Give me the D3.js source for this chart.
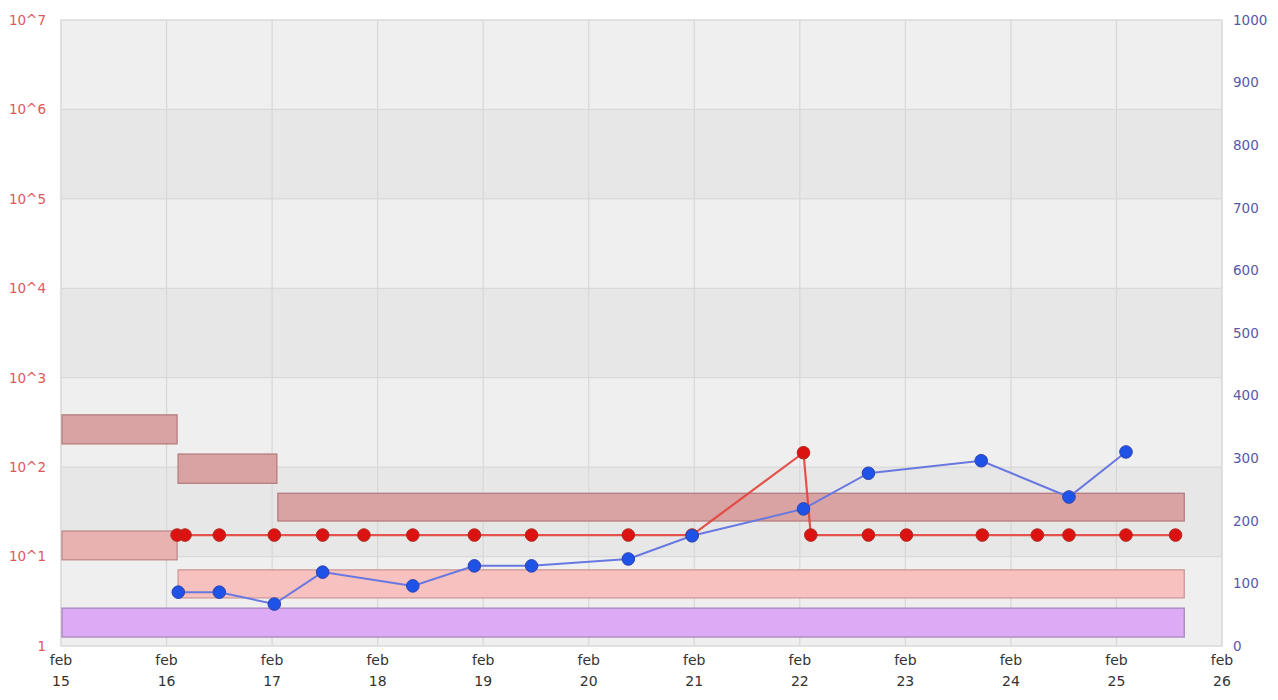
<!DOCTYPE html>
<html>
<head>
<meta charset="utf-8">
<script src="https://cdn.jsdelivr.net/npm/d3@7"></script>
<style>
  html, body { margin: 0; padding: 0; background: #ffffff; }
  svg { display: block; font-family: "DejaVu Sans", Verdana, sans-serif; }
</style>
</head>
<body>
<svg id="chart" width="1278" height="700"></svg>
<script>
// ---------- data ----------
const xDomain = ["2014-02-15 00:00", "2014-02-26 00:00"];
const xTickMonth = "feb";
const xTickDays = ["15","16","17","18","19","20","21","22","23","24","25","26"];
const leftTickValues = [1, 1e1, 1e2, 1e3, 1e4, 1e5, 1e6, 1e7];
const leftTickLabels = ["1", "10^1", "10^2", "10^3", "10^4", "10^5", "10^6", "10^7"];
const rightTickValues = [0, 100, 200, 300, 400, 500, 600, 700, 800, 900, 1000];

// range bars (left log axis)
const bandStart = ["2014-02-15 00:00", "2014-02-15 00:00", "2014-02-16 02:24", "2014-02-17 01:05", "2014-02-16 02:24", "2014-02-15 00:00"];
const bandEnd   = ["2014-02-16 02:24", "2014-02-16 02:24", "2014-02-17 01:05", "2014-02-25 15:25", "2014-02-25 15:25", "2014-02-25 15:25"];
const bandLow   = [182, 9.2, 66, 25, 3.45, 1.26];
const bandHigh  = [384, 19.3, 140, 51, 7.1, 2.65];
const bandFills   = ["#d9a3a3", "#e8b2b1", "#d9a3a3", "#d9a3a3", "#f7c1bf", "#ddabf5"];
const bandStrokes = ["#b57d7d", "#c08888", "#b57d7d", "#b57d7d", "#cf9898", "#a985bd"];

// red series (left log axis)
const redTimes = ["2014-02-16 02:24", "2014-02-16 04:12", "2014-02-16 12:00", "2014-02-17 00:30",
  "2014-02-17 11:30", "2014-02-17 20:53", "2014-02-18 08:00", "2014-02-18 22:00",
  "2014-02-19 11:00", "2014-02-20 09:00", "2014-02-20 23:30", "2014-02-22 00:50",
  "2014-02-22 02:30", "2014-02-22 15:36", "2014-02-23 00:15", "2014-02-23 17:30",
  "2014-02-24 06:00", "2014-02-24 13:12", "2014-02-25 02:10", "2014-02-25 13:26"];
const redValues = [17.4, 17.4, 17.4, 17.4, 17.4, 17.4, 17.4, 17.4, 17.4, 17.4,
  17.4, 145, 17.4, 17.4, 17.4, 17.4, 17.4, 17.4, 17.4, 17.4];

// blue series (right linear axis)
const blueTimes = ["2014-02-16 02:40", "2014-02-16 12:00", "2014-02-17 00:30", "2014-02-17 11:30",
  "2014-02-18 08:00", "2014-02-18 22:00", "2014-02-19 11:00", "2014-02-20 09:00",
  "2014-02-20 23:30", "2014-02-22 00:50", "2014-02-22 15:36", "2014-02-23 17:15",
  "2014-02-24 13:12", "2014-02-25 02:10"];
const blueValues = [86, 86, 67, 118, 96, 128, 128, 139, 176, 219, 276, 296, 238, 310];

// ---------- layout ----------
const parse = d3.utcParse("%Y-%m-%d %H:%M");
const L = 61, R = 1222, T = 20, B = 646;
const svg = d3.select("#chart");

const x = d3.scaleUtc().domain(xDomain.map(parse)).range([L, R]);
const yL = d3.scaleLog().domain([1, 1e7]).range([B, T]);
const yR = d3.scaleLinear().domain([0, 1000]).range([B, T]);

// plot background
svg.append("rect").attr("x", L).attr("y", T).attr("width", R - L).attr("height", B - T)
  .attr("fill", "#efefef");
// alternating decade bands
const decadePairs = [[1e1, 1e2], [1e3, 1e4], [1e5, 1e6]];
svg.append("g").selectAll("rect").data(decadePairs).join("rect")
  .attr("x", L).attr("width", R - L)
  .attr("y", d => yL(d[1])).attr("height", d => yL(d[0]) - yL(d[1]))
  .attr("fill", "#e7e7e7");

// gridlines
const dayTicks = x.ticks(d3.utcDay.every(1));
svg.append("g").selectAll("line").data(dayTicks).join("line")
  .attr("x1", d => x(d)).attr("x2", d => x(d)).attr("y1", T).attr("y2", B)
  .attr("stroke", "#d7d7d7").attr("stroke-width", 1.2);
svg.append("g").selectAll("line").data(leftTickValues).join("line")
  .attr("x1", L).attr("x2", R).attr("y1", d => yL(d)).attr("y2", d => yL(d))
  .attr("stroke", "#d9d9d9").attr("stroke-width", 1.2);
svg.append("rect").attr("x", L).attr("y", T).attr("width", R - L).attr("height", B - T)
  .attr("fill", "none").attr("stroke", "#dcdcdc").attr("stroke-width", 1.2);

// range bars
const bands = bandStart.map((s, i) => ({ s: parse(s), e: parse(bandEnd[i]), lo: bandLow[i], hi: bandHigh[i], i }));
svg.append("g").selectAll("rect").data(bands).join("rect")
  .attr("x", d => x(d.s) + 1).attr("width", d => x(d.e) - x(d.s) - 1)
  .attr("y", d => yL(d.hi)).attr("height", d => yL(d.lo) - yL(d.hi))
  .attr("fill", d => bandFills[d.i]).attr("stroke", d => bandStrokes[d.i]).attr("stroke-width", 1.3);

// red series
const red = redTimes.map((t, i) => ({ t: parse(t), v: redValues[i] }));
svg.append("path").datum(red)
  .attr("d", d3.line().x(d => x(d.t)).y(d => yL(d.v)))
  .attr("fill", "none").attr("stroke", "#e2433b").attr("stroke-width", 2.2).attr("opacity", 0.9);

// blue series
const blue = blueTimes.map((t, i) => ({ t: parse(t), v: blueValues[i] }));
svg.append("path").datum(blue)
  .attr("d", d3.line().x(d => x(d.t)).y(d => yR(d.v)))
  .attr("fill", "none").attr("stroke", "#6878e0").attr("stroke-width", 2);

svg.append("g").selectAll("circle").data(red).join("circle")
  .attr("cx", d => x(d.t)).attr("cy", d => yL(d.v)).attr("r", 6.3)
  .attr("fill", "#dc1210").attr("stroke", "#b02a22").attr("stroke-width", 1);
svg.append("g").selectAll("circle").data(blue).join("circle")
  .attr("cx", d => x(d.t)).attr("cy", d => yR(d.v)).attr("r", 6.3)
  .attr("fill", "#1f52e6").attr("stroke", "#2f44b0").attr("stroke-width", 1);

// left axis labels
svg.append("g").selectAll("text").data(leftTickValues).join("text")
  .attr("x", 46).attr("y", d => Math.max(yL(d), 15))
  .attr("dy", "0.36em").attr("text-anchor", "end")
  .attr("font-size", 13.5).attr("fill", "#e05858")
  .text((d, i) => leftTickLabels[i]);

// right axis labels
svg.append("g").selectAll("text").data(rightTickValues).join("text")
  .attr("x", 1233).attr("y", d => Math.max(yR(d), 15))
  .attr("dy", "0.36em").attr("text-anchor", "start")
  .attr("font-size", 13.5).attr("fill", "#5858a8")
  .text(d => d);

// x axis labels
const xl = svg.append("g").selectAll("text").data(dayTicks).join("text")
  .attr("x", d => x(d)).attr("text-anchor", "middle")
  .attr("font-size", 14).attr("fill", "#333333");
xl.append("tspan").attr("x", d => x(d)).attr("y", 665).text(xTickMonth);
xl.append("tspan").attr("x", d => x(d)).attr("y", 686).text((d, i) => xTickDays[i]);
</script>
</body>
</html>
